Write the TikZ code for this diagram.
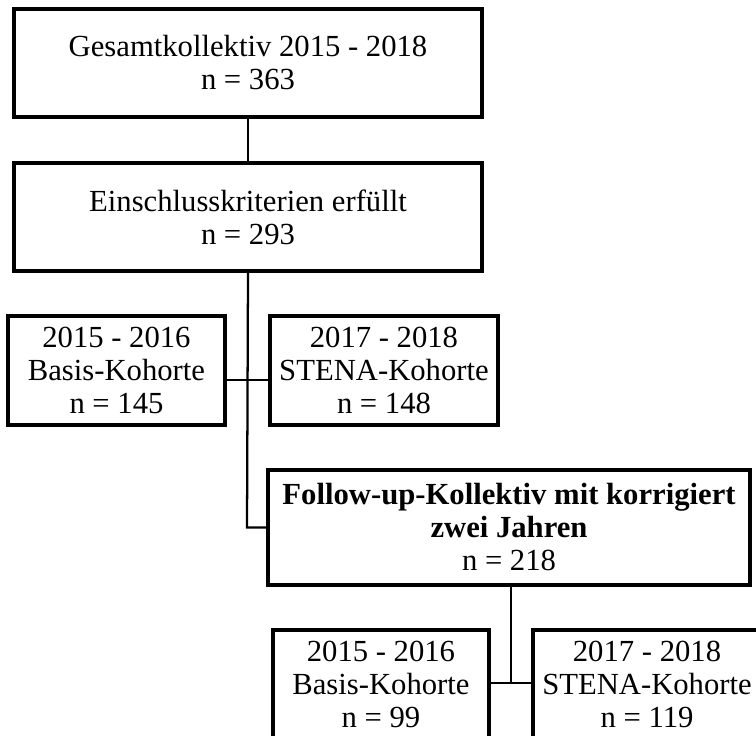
\documentclass[tikz,border=0pt]{standalone}
\usepackage{fontspec}
\setmainfont{Liberation Serif}
\begin{document}
\begin{tikzpicture}[x=0.75pt,y=-0.75pt,
  box/.style={draw=black, line width=2.6pt, rectangle, inner sep=0pt, align=center,
    font=\fontsize{23pt}{24.75pt}\selectfont},
  conn/.style={draw=black, line width=1.7pt}]
\useasboundingbox (0,0) rectangle (756,735);
\clip (0,0) rectangle (756,735);
\node[box, minimum width=351pt, minimum height=81pt] (b1) at (248,63) {Gesamtkollektiv 2015 - 2018\\n = 363};
\node[box, minimum width=351pt, minimum height=81pt] (b2) at (248,217) {Einschlusskriterien erfüllt\\n = 293};
\node[box, minimum width=162.75pt, minimum height=81.75pt] (b3) at (116.5,370.5) {2015 - 2016\\Basis-Kohorte\\n = 145};
\node[box, minimum width=171pt, minimum height=81.75pt] (b4) at (384,370.5) {2017 - 2018\\STENA-Kohorte\\n = 148};
\node[box, minimum width=361.5pt, minimum height=86.25pt] (b5) at (509,527.5) {\textbf{Follow-up-Kollektiv mit korrigiert}\\\textbf{zwei Jahren}\\n = 218};
\node[box, minimum width=162pt, minimum height=81.75pt] (b6) at (381,684.5) {2015 - 2016\\Basis-Kohorte\\n = 99};
\node[box, minimum width=171pt, minimum height=81.75pt] (b7) at (647,684.5) {2017 - 2018\\STENA-Kohorte\\n = 119};
\coordinate (j1) at (247,380);
\coordinate (j2) at (247,527.5);
\coordinate (j3) at (511,683);
\draw[conn] (b1.south) -- (b2.north);
\draw[conn] (b2.south) -- (j2) -- (b5.west);
\draw[conn] (b3.east |- j1) -- (b4.west |- j1);
\draw[conn] (b5.south -| j3) -- (j3);
\draw[conn] (b6.east |- j3) -- (b7.west |- j3);
\end{tikzpicture}
\end{document}
